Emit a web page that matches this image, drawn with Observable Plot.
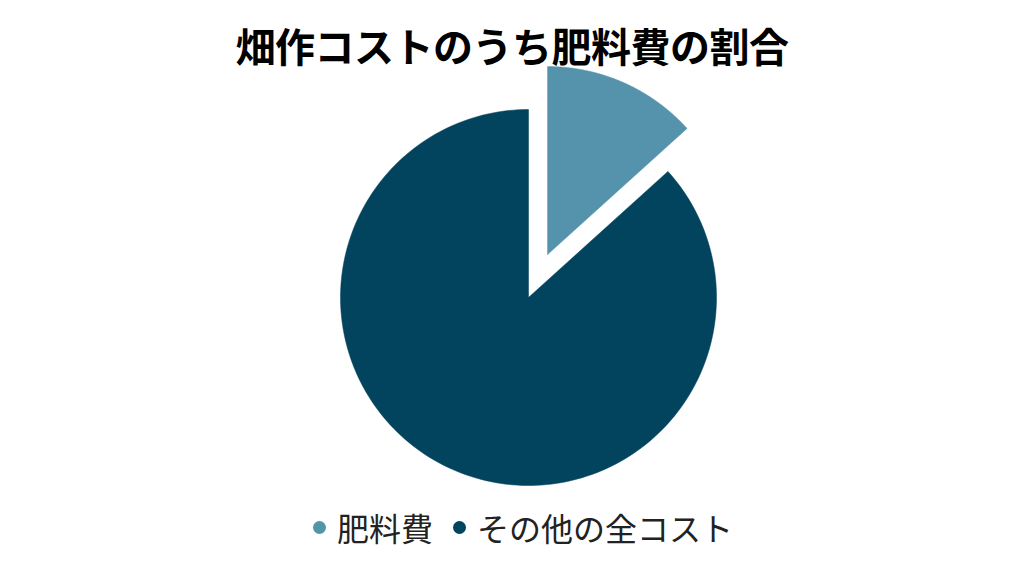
<!DOCTYPE html>
<html><head><meta charset="utf-8">
<script src="https://cdn.jsdelivr.net/npm/d3@7"></script>
<script src="https://cdn.jsdelivr.net/npm/@observablehq/plot@0.6"></script>
<style>
body{margin:0;background:#fff;font-family:"Noto Sans CJK JP","Noto Sans",sans-serif;}
#wrap{position:relative;width:1024px;height:574px;overflow:hidden;}
#title{position:absolute;left:0;top:15px;width:1024px;text-align:center;font-size:40px;font-weight:bold;color:#000;line-height:60px;letter-spacing:-0.5px;}
#legend{position:absolute;left:11px;top:504px;width:1024px;display:flex;justify-content:center;align-items:center;font-size:32px;color:#222;line-height:46px;}
.item{display:flex;align-items:center;margin:0 10px;}
.dot{width:13px;height:13px;border-radius:50%;margin-right:11px;}
#chart{position:absolute;left:0;top:0;}
</style></head>
<body><div id="wrap"><div id="chart"></div><div id="title"></div><div id="legend"></div></div>
<script>
const titleText = "畑作コストのうち肥料費の割合";
const categories = ["肥料費", "その他の全コスト"];
const values = [13.3, 86.7];
const colors = ["#5593ad", "#02435e"];
const explode = [0.25, 0];

document.getElementById("title").textContent = titleText;
const leg = document.getElementById("legend");
categories.forEach((c, i) => {
  const it = document.createElement("div"); it.className = "item";
  const d = document.createElement("span"); d.className = "dot"; d.style.background = colors[i];
  const t = document.createElement("span"); t.textContent = c;
  it.append(d, t); leg.append(it);
});

const arcs = d3.pie().sort(null).value(d => d)(values);
const pts = [];
arcs.forEach((a, i) => {
  const mid = (a.startAngle + a.endAngle) / 2;
  const ox = explode[i] * Math.sin(mid), oy = explode[i] * Math.cos(mid);
  pts.push({cat: categories[i], x: ox, y: oy});
  const n = 200;
  for (let k = 0; k <= n; k++) {
    const t = a.startAngle + (a.endAngle - a.startAngle) * k / n;
    pts.push({cat: categories[i], x: ox + Math.sin(t), y: oy + Math.cos(t)});
  }
  pts.push({cat: categories[i], x: ox, y: oy});
});

const R = 188, cx = 528, cy = 297, W = 1024, H = 574;
const chart = Plot.plot({
  width: W, height: H, margin: 0,
  x: {domain: [-cx / R, (W - cx) / R], range: [0, W], axis: null},
  y: {domain: [-(H - cy) / R, cy / R], range: [H, 0], axis: null},
  color: {domain: categories, range: colors},
  marks: [
    Plot.line(pts, {x: "x", y: "y", z: "cat", fill: "cat", stroke: "cat", strokeWidth: 0.5, curve: "linear"})
  ]
});
document.getElementById("chart").append(chart);
</script></body></html>
